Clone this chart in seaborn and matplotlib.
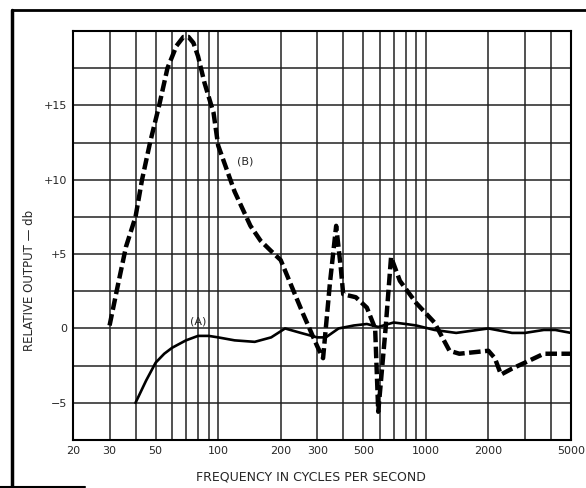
import numpy as np
import pandas as pd
import seaborn as sns
import matplotlib.pyplot as plt
from matplotlib.ticker import FixedLocator, NullFormatter
from matplotlib.lines import Line2D

# Curve (A) - solid response
freq_a = [40, 45, 50, 55, 60, 70, 80, 90, 100, 120, 150, 180, 210, 250,
          300, 330, 380, 450, 520, 590, 700, 800, 900, 1100, 1400, 2000,
          2600, 3000, 3700, 4200, 5000]
db_a = [-5.0, -3.5, -2.3, -1.7, -1.3, -0.8, -0.5, -0.5, -0.6, -0.8, -0.9,
        -0.6, 0.0, -0.3, -0.6, -0.6, 0.0, 0.2, 0.3, 0.1, 0.4, 0.3, 0.2,
        -0.1, -0.3, 0.0, -0.3, -0.3, -0.1, -0.1, -0.3]

# Curve (B) - dashed response
freq_b = [30, 33, 36, 40, 43, 47, 52, 57, 63, 68, 72, 76, 80, 86, 95, 100,
          120, 143, 160, 180, 200, 256, 300, 320, 345, 370, 390, 400, 460,
          520, 570, 590, 640, 680, 750, 900, 1100, 1200, 1300, 1450, 2000,
          2150, 2300, 2600, 3000, 3700, 5000]
db_b = [0.2, 3.0, 5.5, 7.5, 10.0, 12.5, 15.0, 17.5, 19.0, 19.6, 19.6, 19.2,
        18.3, 16.5, 14.5, 12.3, 9.2, 6.9, 5.9, 5.2, 4.6, 1.0, -1.2, -2.0,
        3.0, 6.9, 4.0, 2.3, 2.1, 1.4, 0.0, -5.6, 0.0, 4.8, 3.2, 1.7, 0.4,
        -0.6, -1.5, -1.7, -1.5, -2.0, -3.1, -2.7, -2.3, -1.7, -1.7]

x_major = [20, 30, 50, 100, 200, 300, 500, 1000, 2000, 5000]
x_labels = ["20", "30", "50", "100", "200", "300", "500", "1000", "2000", "5000"]
x_minor = [40, 60, 70, 80, 90, 400, 600, 700, 800, 900, 3000, 4000]
y_major = [-5, 0, 5, 10, 15]
y_labels = ["\u22125", "0", "+5", "+10", "+15"]
y_minor = [-7.5, -2.5, 2.5, 7.5, 12.5, 17.5, 20]

df_a = pd.DataFrame({"freq": freq_a, "db": db_a})
df_b = pd.DataFrame({"freq": freq_b, "db": db_b})

sns.set_style("white")
plt.rcParams['font.family'] = ['DejaVu Sans']

fig = plt.figure(figsize=(5.86, 4.88), dpi=100)
ax = fig.add_axes([73 / 586, 1 - 440 / 488, 498 / 586, 409 / 488])

ax.set_xscale("log")
ax.set_xlim(20, 5000)
ax.set_ylim(-7.5, 20)

ax.xaxis.set_major_locator(FixedLocator(x_major))
ax.xaxis.set_minor_locator(FixedLocator(x_minor))
ax.xaxis.set_minor_formatter(NullFormatter())
ax.set_xticklabels(x_labels)
ax.yaxis.set_major_locator(FixedLocator(y_major))
ax.yaxis.set_minor_locator(FixedLocator(y_minor))
ax.set_yticklabels(y_labels)

ax.grid(True, which="both", color="#222222", lw=1.1)
ax.set_axisbelow(True)
ax.tick_params(which="both", length=0, labelsize=8, pad=4)
for s in ax.spines.values():
    s.set_color("black")
    s.set_linewidth(1.5)

# curves
sns.lineplot(data=df_a, x="freq", y="db", ax=ax, color="black", lw=1.9)
sns.lineplot(data=df_b, x="freq", y="db", ax=ax, color="black", lw=3.2,
             linestyle=(0, (2.6, 1.0)), dash_capstyle="butt")

ax.text(80, 0.45, "(A)", fontsize=8, ha="center", va="center")
ax.text(135, 11.2, "(B)", fontsize=8, ha="center", va="center")

ax.set_xlabel("FREQUENCY IN CYCLES PER SECOND", fontsize=9, labelpad=9)
ax.xaxis.set_label_coords((311 - 73) / 498, -0.075)
ax.set_ylabel("RELATIVE OUTPUT \u2014 db", fontsize=8.5, labelpad=8)
ax.yaxis.set_label_coords(-0.075, (440 - 280) / 409)

# page border from the scan
fig.add_artist(Line2D([12 / 586, 1.0], [1 - 10 / 488, 1 - 10 / 488],
                      transform=fig.transFigure, color="black", lw=2))
fig.add_artist(Line2D([12 / 586, 12 / 586], [0.0, 1 - 10 / 488],
                      transform=fig.transFigure, color="black", lw=2.5))
fig.add_artist(Line2D([0.0, 85 / 586], [1 / 488, 1 / 488],
                      transform=fig.transFigure, color="black", lw=1.5))

fig.savefig("out.png", dpi=100)
